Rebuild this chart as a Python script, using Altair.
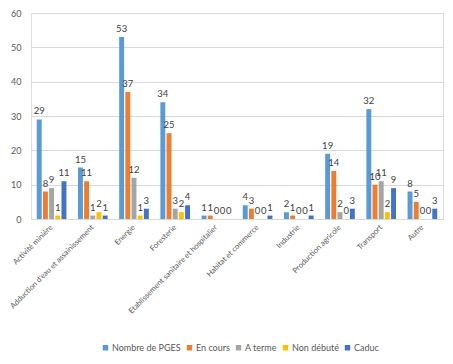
import altair as alt
import pandas as pd

categories = ["Activité minière", "Adduction d'eau et assainissement", "Energie", "Foresterie",
              "Etablissement sanitaire et hospitalier", "Habitat et commerce", "Industrie",
              "Production agricole", "Transport", "Autre"]
series = ["Nombre de PGES", "En cours", "A terme", "Non débuté", "Caduc"]
colors = ["#5B9BD5", "#ED7D31", "#A5A5A5", "#FFC000", "#4472C4"]
nombre = [29, 15, 53, 34, 1, 4, 2, 19, 32, 8]
en_cours = [8, 11, 37, 25, 1, 3, 1, 14, 10, 5]
a_terme = [9, 1, 12, 3, 0, 0, 0, 2, 11, 0]
non_debute = [1, 2, 1, 2, 0, 0, 0, 0, 2, 0]
caduc = [11, 1, 3, 4, 0, 1, 1, 3, 9, 3]

rows = []
for s, vals in zip(series, [nombre, en_cours, a_terme, non_debute, caduc]):
    for c, v in zip(categories, vals):
        rows.append({"cat": c, "serie": s, "val": v})
df = pd.DataFrame(rows)

FONT = "Lato"
x = alt.X("cat:N", sort=categories, title=None,
          scale=alt.Scale(paddingInner=0.25, paddingOuter=0.125),
          axis=alt.Axis(labelAngle=-45, labelAlign="right", labelBaseline="middle",
                        labelPadding=7, ticks=False, domainColor="#D9D9D9",
                        labelColor="#595959", labelFont=FONT, labelFontSize=7.6,
                        labelLimit=300, grid=False))
xo = alt.XOffset("serie:N", sort=series, scale=alt.Scale(paddingInner=0.2, paddingOuter=0.1))
y = alt.Y("val:Q", title=None, scale=alt.Scale(domain=[0, 60]),
          axis=alt.Axis(values=[0, 10, 20, 30, 40, 50, 60], domain=False, ticks=False,
                        gridColor="#D9D9D9", labelColor="#595959", labelFont=FONT,
                        labelFontSize=9, labelPadding=10))
color = alt.Color("serie:N", sort=series, scale=alt.Scale(domain=series, range=colors),
                  legend=alt.Legend(title=None, orient="none", direction="horizontal",
                                    legendX=70, legendY=330, symbolType="square",
                                    symbolSize=30, symbolStrokeWidth=0,
                                    labelColor="#595959", labelFont=FONT, labelFontSize=9,
                                    columnPadding=4, labelOffset=2))

bars = alt.Chart(df).mark_bar().encode(x=x, xOffset=xo, y=y, color=color)
texts = alt.Chart(df).mark_text(baseline="bottom", dy=-3, font=FONT, fontSize=9.5,
                                color="#404040").encode(
    x=x, xOffset=xo, y=y, text="val:Q")

chart = alt.layer(bars, texts).properties(
    width=412, height=206,
    autosize=alt.AutoSizeParams(type="none"),
    padding={"left": 23, "top": 5, "right": 2, "bottom": 137}
).configure_view(stroke=None).configure(background="white")

chart.save("out.html", embed_options={"renderer": "svg", "actions": False})
